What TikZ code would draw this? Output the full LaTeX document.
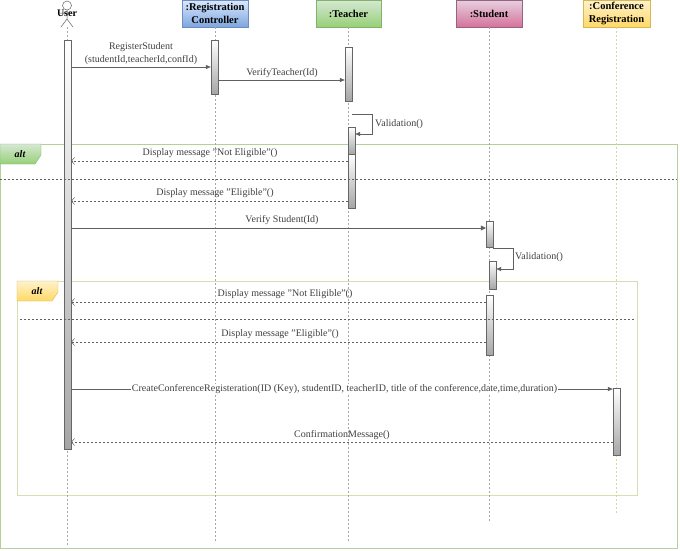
\documentclass[tikz,border=0pt]{standalone}
\usepackage{fontspec}
\setmainfont{Liberation Serif}
\usetikzlibrary{arrows.meta,calc}
\definecolor{txt}{HTML}{404040}
\definecolor{lin}{HTML}{606060}
\definecolor{blueT}{HTML}{DAE8FC}
\definecolor{blueB}{HTML}{7EA6E0}
\definecolor{blueD}{HTML}{6C8EBF}
\definecolor{greenT}{HTML}{D5E8D4}
\definecolor{greenB}{HTML}{97D077}
\definecolor{greenD}{HTML}{82B366}
\definecolor{pinkT}{HTML}{E6D0DE}
\definecolor{pinkB}{HTML}{D5739D}
\definecolor{pinkD}{HTML}{996185}
\definecolor{yelT}{HTML}{FFF2CC}
\definecolor{yelB}{HTML}{FFD966}
\definecolor{yelD}{HTML}{D6B656}
\definecolor{frameG}{HTML}{B5CF9A}
\definecolor{frameY}{HTML}{DCDCB4}
\definecolor{lifeY}{HTML}{D6D696}
\tikzset{
  head/.style={draw, minimum width=66pt, minimum height=27pt, align=center, inner sep=1pt,
    font=\bfseries\fontsize{10.5}{12.5}\selectfont},
  bar/.style={draw=gray!80!black, line width=0.4pt, top color=white, bottom color=black!35, minimum width=7pt, inner sep=0pt},
  life/.style={draw=gray!70, dash pattern=on 2pt off 2pt, line width=0.4pt},
  msg/.style={draw=lin, line width=0.5pt, -{Triangle[length=5pt,width=4pt]}},
  ret/.style={draw=lin, dash pattern=on 2pt off 2pt, line width=0.5pt, -{Straight Barb[length=3pt,width=7pt]}},
  lbl/.style={text=txt, inner sep=1pt},
  sep/.style={draw=lin, dash pattern=on 2pt off 2pt, line width=0.5pt},
  alttxt/.style={font=\bfseries\itshape\fontsize{10}{11}\selectfont, inner sep=0pt}
}
\begin{document}
\begin{tikzpicture}[x=1pt,y=-1pt,font=\fontsize{10}{13}\selectfont]
\useasboundingbox[fill=white] (0,0) rectangle (680,550);

% headers
\node[head, top color=blueT, bottom color=blueB, draw=blueD] (rc) at (215,13.5) {:Registration\\Controller};
\node[head, minimum width=65pt, top color=greenT, bottom color=greenB, draw=greenD] (tc) at (348.5,13.5) {:Teacher};
\node[head, top color=pinkT, bottom color=pinkB, draw=pinkD] (st) at (489,13.5) {:Student};
\node[head, minimum width=67pt, top color=yelT, bottom color=yelB, draw=yelD] (cf) at (616.5,13.5) {:Conference\\Registration};

% actor
\coordinate (uh) at (67,5.5);
\draw[lin, line width=0.5pt] (uh) circle (4.5pt);
\draw[lin, line width=0.5pt] (67,10) -- (67,19) (60,13) -- (74,13) (61,27) -- (67,19) -- (73,27);
\node[font=\bfseries\fontsize{10}{11}\selectfont, inner sep=0pt] (user) at (67,13) {User};
\coordinate (ua) at (67,27);

% lifeline ends
\coordinate (ue) at (67,545);
\coordinate (rce) at (215,543);
\coordinate (tce) at (348.5,543);
\coordinate (ste) at (489,522);
\coordinate (cfe) at (616.5,515);

% frames (behind)
\draw[draw=frameG, line width=0.8pt] (0,144) rectangle (677,548);
\draw[draw=frameY, line width=0.8pt] (17,281) rectangle (637,495);

% lifelines
\draw[life] (ua) -- (ue);
\draw[life] (rc.south) -- (rce);
\draw[life] (tc.south) -- (tce);
\draw[life] (st.south) -- (ste);
\draw[life, draw=lifeY] (cf.south) -- (cfe);

% activation bars
\node[bar, minimum height=409pt] (ub) at (67.5,244.5) {};
\node[bar, minimum height=54pt] (rb) at (214.5,67) {};
\node[bar, minimum height=54pt] (tb1) at (348.5,74) {};
\node[bar, minimum height=27pt] (tb2) at (351.5,140.5) {};
\node[bar, minimum height=54pt] (tb3) at (351.5,181) {};
\node[bar, minimum height=26pt] (sb1) at (489.5,234) {};
\node[bar, minimum height=28pt] (sb2) at (492.5,275) {};
\node[bar, minimum height=60pt] (sb3) at (489.5,325) {};
\node[bar, minimum height=67pt] (cb) at (616.5,421.5) {};

% alt tabs (drawn with an upright y axis so the shading runs top to bottom)
\begin{scope}[y=1pt]
\shade[top color=greenT, bottom color=greenB, draw=greenD, line width=0.4pt]
  (0,-144) -- (41,-144) -- (41,-155) -- (35,-164) -- (0,-164) -- cycle;
\shade[top color=yelT, bottom color=yelB, draw=yelD, line width=0.4pt]
  (17,-281) -- (58,-281) -- (58,-292) -- (52,-301) -- (17,-301) -- cycle;
\end{scope}
\node[alttxt] (alt1) at (20,154.5) {alt};
\node[alttxt] (alt2) at (37,291.5) {alt};

% separators
\draw[sep] (0,179) -- (677,179);
\draw[sep] (20,319) -- (635,319);

% message y levels
\coordinate (y1) at (0,67);
\coordinate (y2) at (0,80);
\coordinate (y3) at (0,114);
\coordinate (y4) at (0,134);
\coordinate (y5) at (0,161);
\coordinate (y6) at (0,201);
\coordinate (y7) at (0,228);
\coordinate (y8) at (0,248);
\coordinate (y9) at (0,269);
\coordinate (y10) at (0,302);
\coordinate (y11) at (0,342);
\coordinate (y12) at (0,389);
\coordinate (y13) at (0,442);

% messages
\draw[msg] (ub.east |- y1) -- (rb.west |- y1);
\node[lbl, align=center] (l1) at (141,53.5) {RegisterStudent\\(studentId,teacherId,confId)};
\draw[msg] (rb.east |- y2) -- (tb1.west |- y2);
\node[lbl] (l2) at (282,73) {VerifyTeacher(Id)};
\coordinate (s1a) at (372,114);
\coordinate (s1b) at (372,134);
\draw[msg] (tb1.east |- y3) -- (s1a) -- (s1b) -- (tb2.east |- y4);
\node[lbl, anchor=west] (l3) at (374,124) {Validation()};
\draw[ret] (tb2.west |- y5) -- (ub.east |- y5);
\node[lbl] (l4) at (210,153) {Display message "Not Eligible"()};
\draw[ret] (tb3.west |- y6) -- (ub.east |- y6);
\node[lbl] (l5) at (215,193) {Display message "Eligible"()};
\draw[msg, -{Triangle[length=5pt,width=5pt]}] (ub.east |- y7) -- (sb1.west |- y7);
\node[lbl] (l6) at (282,220) {Verify Student(Id)};
\coordinate (s2a) at (513,248);
\coordinate (s2b) at (513,269);
\draw[msg] (sb1.east |- y8) -- (s2a) -- (s2b) -- (sb2.east |- y9);
\node[lbl, anchor=west] (l7) at (514,257) {Validation()};
\draw[ret] (sb3.west |- y10) -- (ub.east |- y10);
\node[lbl] (l8) at (285,294) {Display message "Not Eligible"()};
\draw[ret] (sb3.west |- y11) -- (ub.east |- y11);
\node[lbl] (l9) at (280,334) {Display message "Eligible"()};
\draw[msg] (ub.east |- y12) -- (cb.west |- y12);
\node[lbl, fill=white, inner sep=0.5pt] (l10) at (344.5,389) {CreateConferenceRegisteration(ID (Key), studentID, teacherID, title of the conference,date,time,duration)};
\draw[ret] (cb.west |- y13) -- (ub.east |- y13);
\node[lbl] (l11) at (342,435) {ConfirmationMessage()};
\end{tikzpicture}
\end{document}
